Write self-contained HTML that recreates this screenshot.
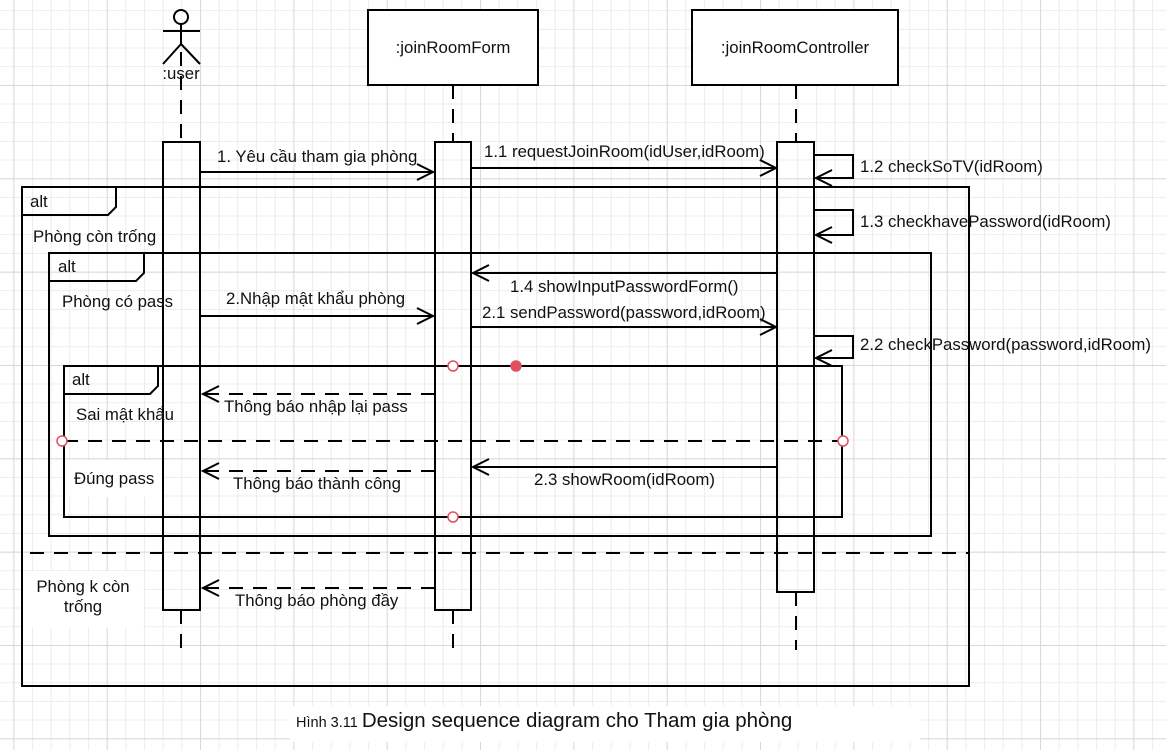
<!DOCTYPE html>
<html><head><meta charset="utf-8"><style>
html,body{margin:0;padding:0;background:#fff;}
svg{display:block;}
text{font-family:"Liberation Sans",sans-serif;font-size:16.8px;fill:#111;}
</style></head><body>
<svg width="1166" height="750" viewBox="0 0 1166 750" xmlns="http://www.w3.org/2000/svg">
<defs>
<pattern id="g" x="13.4" y="10.3" width="18.667" height="18.667" patternUnits="userSpaceOnUse">
<path d="M0 0H18.667M0 0V18.667" stroke="#e6e6e6" stroke-width="1.5" fill="none"/>
</pattern>
<pattern id="G" x="13.4" y="-8.3" width="93.33" height="93.33" patternUnits="userSpaceOnUse">
<path d="M0 0H93.33M0 0V93.33" stroke="#d9d9d9" stroke-width="2" fill="none"/>
</pattern>
</defs>
<rect width="1166" height="750" fill="#fff"/>
<rect width="1166" height="750" fill="url(#g)"/>
<rect width="1166" height="750" fill="url(#G)"/>
<rect x="64" y="460" width="99" height="37" fill="#fff"/>
<rect x="22" y="571" width="121" height="57" fill="#fff"/>
<rect x="290" y="706" width="630" height="36" fill="#fff"/>

<g stroke="#000" stroke-width="2" fill="none">
<circle cx="181" cy="17" r="7"/>
<line x1="163" y1="31" x2="200" y2="31"/>
<line x1="181" y1="24" x2="181" y2="44"/>
<line x1="181" y1="44" x2="163" y2="64"/><line x1="181" y1="44" x2="200" y2="64"/>
<rect x="368" y="10" width="170" height="75" fill="#fff"/>
<rect x="692" y="10" width="206" height="75" fill="#fff"/>
<g stroke-dasharray="14,10">
<line x1="181" y1="52" x2="181" y2="142"/><line x1="181" y1="610" x2="181" y2="650"/>
<line x1="453" y1="85" x2="453" y2="142"/><line x1="453" y1="610" x2="453" y2="650"/>
<line x1="796" y1="85" x2="796" y2="142"/><line x1="796" y1="592" x2="796" y2="650"/>
</g>
<rect x="163" y="142" width="37" height="468"/>
<rect x="435" y="142" width="36" height="468"/>
<rect x="777" y="142" width="37" height="450"/>
<rect x="22" y="187" width="947" height="499"/>
<path d="M22 215H108L116 207V187"/>
<rect x="49" y="253" width="882" height="283"/>
<path d="M49 281H136L144 273V253"/>
<rect x="64" y="366" width="778" height="151"/>
<path d="M64 394H150L158 386V366"/>
<line x1="30" y1="553" x2="969" y2="553" stroke-dasharray="14,10"/>
<line x1="64" y1="441" x2="842" y2="441" stroke-dasharray="14,10"/>
<line x1="200" y1="172" x2="433" y2="172"/><path d="M417 164L433 172L417 180"/>
<line x1="471" y1="168" x2="776" y2="168"/><path d="M760 160L776 168L760 176"/>
<path d="M814 155H853V178H816"/><path d="M832 170L816 178L832 186"/>
<path d="M814 210H853V235H816"/><path d="M832 227L816 235L832 243"/>
<line x1="777" y1="273" x2="473" y2="273"/><path d="M489 265L473 273L489 281"/>
<line x1="200" y1="316" x2="433" y2="316"/><path d="M417 308L433 316L417 324"/>
<line x1="471" y1="327" x2="776" y2="327"/><path d="M760 319L776 327L760 335"/>
<path d="M814 336H853V358H816"/><path d="M832 350L816 358L832 366"/>
<line x1="435" y1="394" x2="203" y2="394" stroke-dasharray="14,10"/><path d="M219 386L203 394L219 402"/>
<line x1="777" y1="467" x2="473" y2="467"/><path d="M489 459L473 467L489 475"/>
<line x1="435" y1="471" x2="203" y2="471" stroke-dasharray="14,10"/><path d="M219 463L203 471L219 479"/>
<line x1="435" y1="588" x2="203" y2="588" stroke-dasharray="14,10"/><path d="M219 580L203 588L219 596"/>
</g>
<g stroke="#e05060" stroke-width="1.5" fill="#fff">
<circle cx="453" cy="366" r="5"/><circle cx="62" cy="441" r="5"/><circle cx="843" cy="441" r="5"/><circle cx="453" cy="517" r="5"/>
<circle cx="516" cy="366" r="5" fill="#e05060"/>
</g>
<text x="181" y="79" text-anchor="middle">:user</text>
<text x="453" y="53" text-anchor="middle">:joinRoomForm</text>
<text x="795" y="53" text-anchor="middle">:joinRoomController</text>
<text x="217" y="162">1. Yêu cầu tham gia phòng</text>
<text x="484" y="157">1.1 requestJoinRoom(idUser,idRoom)</text>
<text x="860" y="172">1.2 checkSoTV(idRoom)</text>
<text x="860" y="227">1.3 checkhavePassword(idRoom)</text>
<text x="510" y="292">1.4 showInputPasswordForm()</text>
<text x="226" y="304">2.Nhập mật khẩu phòng</text>
<text x="482" y="318">2.1 sendPassword(password,idRoom)</text>
<text x="860" y="350">2.2 checkPassword(password,idRoom)</text>
<text x="224" y="412">Thông báo nhập lại pass</text>
<text x="534" y="485">2.3 showRoom(idRoom)</text>
<text x="233" y="489">Thông báo thành công</text>
<text x="235" y="606">Thông báo phòng đầy</text>
<text x="30" y="207">alt</text>
<text x="58" y="272">alt</text>
<text x="72" y="385">alt</text>
<text x="33" y="242">Phòng còn trống</text>
<text x="62" y="307">Phòng có pass</text>
<text x="76" y="420">Sai mật khẩu</text>
<text x="74" y="484">Đúng pass</text>
<text x="83" y="592" text-anchor="middle">Phòng k còn</text>
<text x="83" y="612" text-anchor="middle">trống</text>
<text x="296" y="727"><tspan style="font-size:14.5px">Hình 3.11 </tspan><tspan style="font-size:20.5px">Design sequence diagram cho Tham gia phòng</tspan></text>
</svg>
</body></html>
